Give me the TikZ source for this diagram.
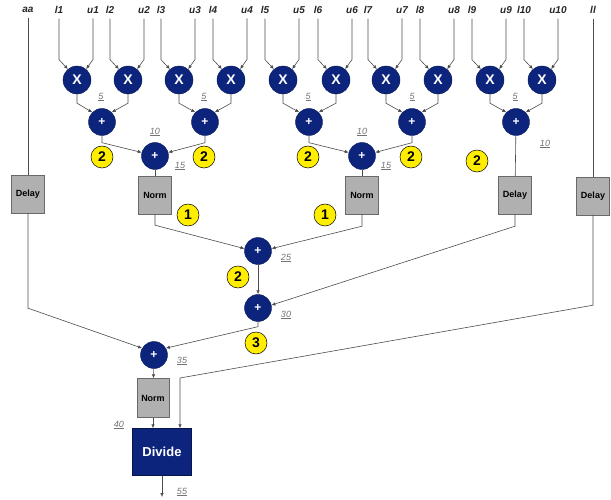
\documentclass[tikz,border=0pt]{standalone}
\usepackage{fontspec}
\setmainfont{Liberation Sans}
\usepackage{tikz}
\usetikzlibrary{arrows.meta, positioning}

\definecolor{navy}{RGB}{12,36,124}
\definecolor{badgeyellow}{RGB}{255,238,0}
\definecolor{boxgray}{RGB}{176,176,176}
\definecolor{boxedge}{RGB}{105,105,105}

\begin{document}
\begin{tikzpicture}[x=1pt, y=-1pt,
    mult/.style={circle, fill=navy, draw=navy!70!black, minimum size=28pt, inner sep=0pt, text=white, font=\fontsize{14}{14}\selectfont\bfseries},
    add/.style={circle, fill=navy, draw=navy!70!black, minimum size=27pt, inner sep=0pt, text=white, font=\fontsize{12}{12}\selectfont\bfseries},
    badge/.style={circle, fill=badgeyellow, draw=black, line width=0.5pt, minimum size=22pt, inner sep=0pt, font=\fontsize{14}{14}\selectfont\bfseries},
    unit/.style={rectangle, fill=boxgray, draw=boxedge, minimum width=33pt, minimum height=38pt, inner sep=0pt, font=\fontsize{9}{9}\selectfont\bfseries},
    inlabel/.style={font=\fontsize{10}{10}\selectfont\bfseries\itshape, text=black!85, inner sep=1pt, outer sep=4pt},
    latency/.style={font=\fontsize{9}{9}\selectfont\itshape, text=black!55, inner sep=0pt},
    wire/.style={draw=black!70, line width=0.6pt},
    arr/.style={wire, -{Latex[length=4pt, width=3.5pt]}},
]
    \useasboundingbox (0,0) rectangle (611,500);

    % Multipliers with their inputs
    \foreach \i/\xm in {1/77, 2/128, 3/179, 4/231, 5/283, 6/336, 7/386, 8/438, 9/490, 10/542} {
        \node[mult] (x\i) at (\xm,80) {X};
        \node[inlabel] (l\i) at (\xm-18,10) {l\i};
        \node[inlabel] (u\i) at (\xm+16,10) {u\i};
        \draw[arr] (l\i.south) -- ++(0,41) -- (x\i.130);
        \draw[arr] (u\i.south) -- ++(0,41) -- (x\i.50);
    }

    % First adder row
    \node[add] (p1) at (102,122) {+};
    \node[add] (p2) at (205,122) {+};
    \node[add] (p3) at (309,122) {+};
    \node[add] (p4) at (412,122) {+};
    \node[add] (p5) at (516,122) {+};
    \draw[arr] (x1.south) -- ++(0,9) -- (p1.135);
    \draw[arr] (x2.south) -- ++(0,9) -- (p1.45);
    \draw[arr] (x3.south) -- ++(0,9) -- (p2.135);
    \draw[arr] (x4.south) -- ++(0,9) -- (p2.45);
    \draw[arr] (x5.south) -- ++(0,9) -- (p3.135);
    \draw[arr] (x6.south) -- ++(0,9) -- (p3.45);
    \draw[arr] (x7.south) -- ++(0,9) -- (p4.135);
    \draw[arr] (x8.south) -- ++(0,9) -- (p4.45);
    \draw[arr] (x9.south) -- ++(0,9) -- (p5.135);
    \draw[arr] (x10.south) -- ++(0,9) -- (p5.45);

    % Second adder row
    \node[add] (q1) at (155,156) {+};
    \node[add] (q2) at (362,156) {+};
    \draw[arr] (p1.south) -- ++(0,7) -- (q1.165);
    \draw[arr] (p2.south) -- ++(0,7) -- (q1.15);
    \draw[arr] (p3.south) -- ++(0,7) -- (q2.165);
    \draw[arr] (p4.south) -- ++(0,7) -- (q2.15);

    % Delay and normalise stage
    \node[inlabel] (aa) at (28,10) {aa};
    \node[inlabel] (ll) at (593,10) {ll};
    \node[unit] (delayA) at (28,194) {Delay};
    \node[unit] (norm1) at (155,195) {Norm};
    \node[unit] (norm2) at (362,195) {Norm};
    \node[unit] (delayB) at (515,195) {Delay};
    \node[unit] (delayC) at (593,196) {Delay};
    \draw[wire] (aa.south) -- (delayA.north);
    \draw[wire] (ll.south) -- (delayC.north);
    \draw[wire] (q1) -- (norm1);
    \draw[wire] (q2) -- (norm2);
    \draw[wire] (p5) -- (delayB);

    % Final adders
    \node[add] (pa) at (258,251) {+};
    \node[add] (pb) at (258,308) {+};
    \node[add] (pc) at (154,355) {+};
    \draw[arr] (norm1.south) -- ++(0,11) -- (pa.170);
    \draw[arr] (norm2.south) -- ++(0,12) -- (pa.10);
    \draw[arr] (pa) -- (pb);
    \draw[arr] (delayB.south) -- ++(0,12) -- (pb.12);
    \draw[arr] (delayA.south) -- ++(0,95) -- (pc.150);
    \draw[arr] (pb.south) -- ++(0,5) -- (pc.30);

    % Normalise and divide
    \node[unit, minimum width=32pt, minimum height=39pt] (norm3) at (153,398) {Norm};
    \node[rectangle, fill=navy, draw=navy!60!black, minimum width=59pt, minimum height=47pt, inner sep=0pt, text=white, font=\fontsize{13}{13}\selectfont\bfseries] (divide) at (162,452) {Divide};
    \coordinate (bend) at (180,378);
    \coordinate (out) at (162,497);
    \draw[arr] (pc) -- (norm3);
    \draw[arr] (norm3.south) -- (norm3.south |- divide.north);
    \draw[arr] (delayC.south) -- ++(0,90) -- (bend) -- (bend |- divide.north);
    \draw[arr] (divide) -- (out);

    % Pipeline depth badges
    \node[badge] (b1) at (102,157) {2};
    \node[badge] (b2) at (204,157) {2};
    \node[badge] (b3) at (308,157) {2};
    \node[badge] (b4) at (411,157) {2};
    \node[badge] (b5) at (477,161) {2};
    \node[badge] (b6) at (188,215) {1};
    \node[badge] (b7) at (325,215) {1};
    \node[badge] (b8) at (238,277) {2};
    \node[badge] (b9) at (256,343) {3};

    % Latencies
    \node[latency] (t1) at (101,97) {\underline{5}};
    \node[latency] (t2) at (204,97) {\underline{5}};
    \node[latency] (t3) at (308,97) {\underline{5}};
    \node[latency] (t4) at (412,97) {\underline{5}};
    \node[latency] (t5) at (515,97) {\underline{5}};
    \node[latency] (t6) at (155,132) {\underline{10}};
    \node[latency] (t7) at (362,132) {\underline{10}};
    \node[latency] (t8) at (545,144) {\underline{10}};
    \node[latency] (t9) at (180,166) {\underline{15}};
    \node[latency] (t10) at (386,166) {\underline{15}};
    \node[latency] (t11) at (286,258) {\underline{25}};
    \node[latency] (t12) at (286,315) {\underline{30}};
    \node[latency] (t13) at (182,361) {\underline{35}};
    \node[latency] (t14) at (119,425) {\underline{40}};
    \node[latency] (t15) at (182,492) {\underline{55}};
\end{tikzpicture}
\end{document}
